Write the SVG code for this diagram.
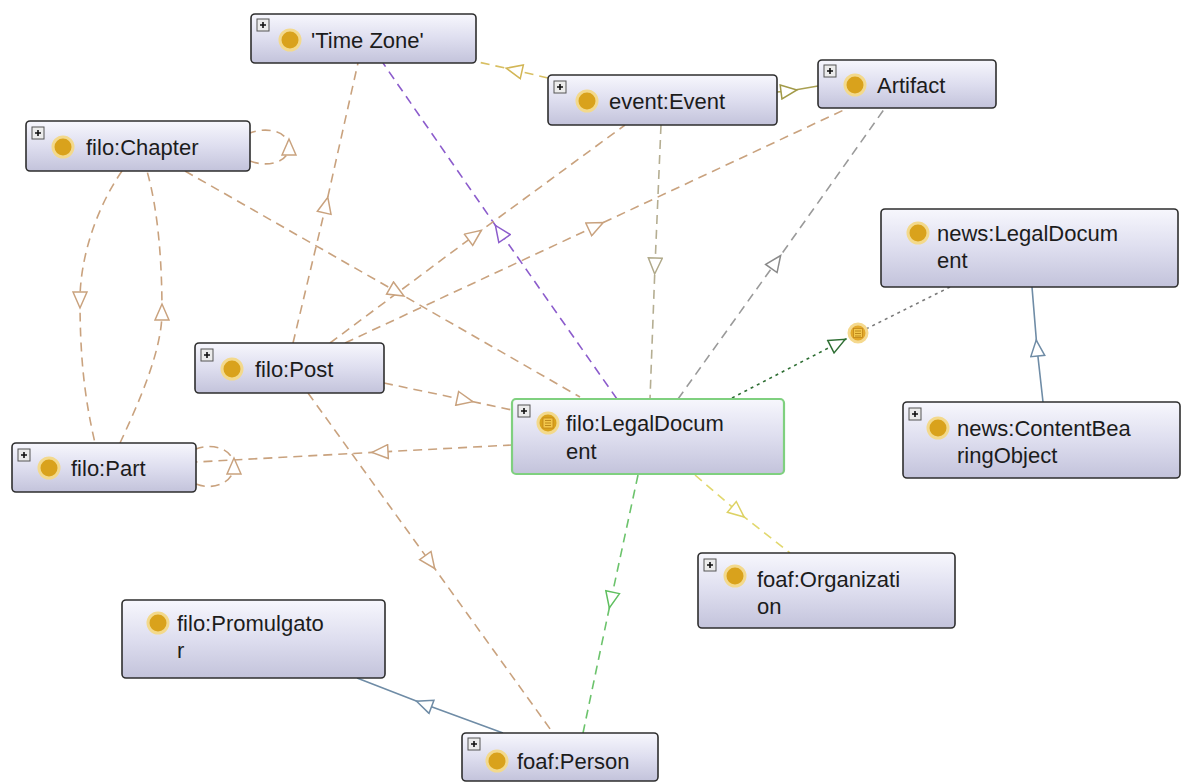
<svg xmlns="http://www.w3.org/2000/svg" width="1182" height="782" viewBox="0 0 1182 782">
<style>
.box{fill:url(#nodeFill);stroke:#2e2e2e;stroke-width:1.6}
.box.sel{stroke:#7fd07f;stroke-width:2.2}
.lbl{font-family:"Liberation Sans",Arial,sans-serif;font-size:22px;fill:#1c1c1c}
.dot{fill:#d9a21c;stroke:#f3d98c;stroke-width:3}
.plus rect{fill:#ececec;stroke:#555;stroke-width:1}
.plus path{stroke:#111;stroke-width:1.6}
.e{fill:none;stroke-width:1.6;stroke-dasharray:9 6}
.tan{stroke:#c9a27e}
.olive{stroke:#b5ae92}
.gray{stroke:#9a9a9a}
.purple{stroke:#8c5ccc}
.green{stroke:#6cc36c}
.yellow{stroke:#e2d86e}
.gold{stroke:#d8bf62}
.ol2{stroke:#a9a052}
.solid{stroke:#6f8ca6;stroke-dasharray:none}
.dotg{stroke:#2f6f34;stroke-dasharray:3 4}
.dotgr{stroke:#7a7a7a;stroke-dasharray:3 4}
.ah{stroke-width:1.5;fill:#fff}
</style>
<defs>
<linearGradient id="nodeFill" x1="0" y1="0" x2="0" y2="1">
<stop offset="0" stop-color="#f7f7fd"/>
<stop offset="0.5" stop-color="#dedeef"/>
<stop offset="1" stop-color="#c3c3db"/>
</linearGradient>
<marker id="m-tan" markerUnits="userSpaceOnUse" markerWidth="20" markerHeight="16" viewBox="0 0 20 16" refX="10" refY="8" orient="auto"><path class="ah" d="M2,1 L18,8 L2,15 Z" stroke="#c9a27e"/></marker>
<marker id="m-olive" markerUnits="userSpaceOnUse" markerWidth="20" markerHeight="16" viewBox="0 0 20 16" refX="10" refY="8" orient="auto"><path class="ah" d="M2,1 L18,8 L2,15 Z" stroke="#b0a98a"/></marker>
<marker id="m-gray" markerUnits="userSpaceOnUse" markerWidth="20" markerHeight="16" viewBox="0 0 20 16" refX="10" refY="8" orient="auto"><path class="ah" d="M2,1 L18,8 L2,15 Z" stroke="#8a8a8a"/></marker>
<marker id="m-purple" markerUnits="userSpaceOnUse" markerWidth="20" markerHeight="16" viewBox="0 0 20 16" refX="10" refY="8" orient="auto"><path class="ah" d="M2,1 L18,8 L2,15 Z" stroke="#8c5ccc"/></marker>
<marker id="m-green" markerUnits="userSpaceOnUse" markerWidth="20" markerHeight="16" viewBox="0 0 20 16" refX="10" refY="8" orient="auto"><path class="ah" d="M2,1 L18,8 L2,15 Z" stroke="#5fbf5f"/></marker>
<marker id="m-yellow" markerUnits="userSpaceOnUse" markerWidth="20" markerHeight="16" viewBox="0 0 20 16" refX="10" refY="8" orient="auto"><path class="ah" d="M2,1 L18,8 L2,15 Z" stroke="#ddd264"/></marker>
<marker id="m-gold" markerUnits="userSpaceOnUse" markerWidth="20" markerHeight="16" viewBox="0 0 20 16" refX="10" refY="8" orient="auto"><path class="ah" d="M2,1 L18,8 L2,15 Z" stroke="#d2b656"/></marker>
<marker id="m-ol2" markerUnits="userSpaceOnUse" markerWidth="20" markerHeight="16" viewBox="0 0 20 16" refX="10" refY="8" orient="auto"><path class="ah" d="M2,1 L18,8 L2,15 Z" stroke="#a29a48"/></marker>
<marker id="m-solid" markerUnits="userSpaceOnUse" markerWidth="20" markerHeight="16" viewBox="0 0 20 16" refX="10" refY="8" orient="auto"><path class="ah" d="M2,1 L18,8 L2,15 Z" stroke="#6f8ca6"/></marker>
<marker id="m-dotg" markerUnits="userSpaceOnUse" markerWidth="20" markerHeight="16" viewBox="0 0 20 16" refX="10" refY="8" orient="auto"><path class="ah" d="M2,1 L18,8 L2,15 Z" stroke="#2f6f34"/></marker>
</defs>
<rect width="1182" height="782" fill="#fff"/>

<g id="connectors">
<path class="e gold" d="M548,78 L514,70 L478,62" marker-mid="url(#m-gold)"/>
<path class="e ol2" d="M777,92 L789,91 L818,86" marker-mid="url(#m-ol2)" style="stroke-dasharray:none"/>
<path class="e tan" d="M293,343 L326,205 L358,63" marker-mid="url(#m-tan)"/>
<path class="e purple" d="M617,399 L500,232 L383,63" marker-mid="url(#m-purple)"/>
<path class="e tan" d="M330,343 L475,235 L625,125" marker-mid="url(#m-tan)"/>
<path class="e tan" d="M345,343 L596,226 L848,108" marker-mid="url(#m-tan)"/>
<path class="e tan" d="M185,171 L397,292 L580,397" marker-mid="url(#m-tan)"/>
<path class="e olive" d="M661,125 L655,266 L650,399" marker-mid="url(#m-olive)"/>
<path class="e gray" d="M678,399 L776,262 L885,108" marker-mid="url(#m-gray)"/>
<path class="e dotg" d="M732,398 L838,343 L850,337" marker-mid="url(#m-dotg)"/>
<path class="e dotgr" d="M866,329 L950,287"/>
<path class="e solid" d="M1043,402 L1037,348 L1032,287" marker-mid="url(#m-solid)"/>
<path class="e tan" d="M384,383 L465,400 L512,410" marker-mid="url(#m-tan)"/>
<path class="e tan" d="M512,445 L380,452 L196,462" marker-mid="url(#m-tan)"/>
<path class="e tan" d="M196,484 C214,491 234,482 234,466 C234,450 214,442 196,449" marker-mid="url(#m-tan)"/>
<path class="e tan" d="M250,161 C268,168 289,162 289,147 C289,132 268,126 250,133" marker-mid="url(#m-tan)"/>
<path class="e tan" d="M122,171 C95,210 80,260 80,300 C80,360 85,400 95,443" marker-mid="url(#m-tan)"/>
<path class="e tan" d="M120,443 C140,400 162,350 162,312 C162,260 158,210 147,171" marker-mid="url(#m-tan)"/>
<path class="e tan" d="M308,393 L430,562 L553,733" marker-mid="url(#m-tan)"/>
<path class="e green" d="M638,475 L611,600 L583,733" marker-mid="url(#m-green)"/>
<path class="e yellow" d="M695,475 L738,512 L790,553" marker-mid="url(#m-yellow)"/>
<path class="e solid" d="M503,733 L424,704 L357,678" marker-mid="url(#m-solid)"/>
<g id="equiv-point">
<circle cx="858" cy="333" r="9" fill="#e2a82a" stroke="#f5d98e" stroke-width="3"/>
<rect x="853.5" y="328.5" width="9" height="9" fill="#f2c64a" stroke="#c2861a" stroke-width="0.8"/>
<path d="M855,331 H861 M855,333.5 H861 M855,336 H861" stroke="#b07a10" stroke-width="0.8"/>
</g>
</g>

<g id="node-time-zone">
<rect class="box" x="251" y="14" width="225" height="49" rx="4"/>
<g class="plus"><rect x="257" y="19" width="12" height="12"/><path d="M260,25 H266 M263,22 V28"/></g>
<circle class="dot" cx="290" cy="40" r="10"/>
<text class="lbl" x="311" y="48">'Time Zone'</text>
</g>

<g id="node-event">
<rect class="box" x="548" y="75" width="229" height="50" rx="4"/>
<g class="plus"><rect x="554" y="81" width="12" height="12"/><path d="M557,87 H563 M560,84 V90"/></g>
<circle class="dot" cx="587" cy="101" r="10"/>
<text class="lbl" x="609" y="109">event:Event</text>
</g>

<g id="node-artifact">
<rect class="box" x="818" y="60" width="178" height="48" rx="4"/>
<g class="plus"><rect x="824" y="65" width="12" height="12"/><path d="M827,71 H833 M830,68 V74"/></g>
<circle class="dot" cx="855" cy="85" r="10"/>
<text class="lbl" x="877" y="93">Artifact</text>
</g>

<g id="node-chapter">
<rect class="box" x="26" y="121" width="224" height="50" rx="4"/>
<g class="plus"><rect x="32" y="127" width="12" height="12"/><path d="M35,133 H41 M38,130 V136"/></g>
<circle class="dot" cx="63" cy="147" r="10"/>
<text class="lbl" x="86" y="155">filo:Chapter</text>
</g>

<g id="node-post">
<rect class="box" x="195" y="343" width="189" height="50" rx="4"/>
<g class="plus"><rect x="201" y="349" width="12" height="12"/><path d="M204,355 H210 M207,352 V358"/></g>
<circle class="dot" cx="232" cy="369" r="10"/>
<text class="lbl" x="255" y="377">filo:Post</text>
</g>

<g id="node-part">
<rect class="box" x="12" y="443" width="184" height="49" rx="4"/>
<g class="plus"><rect x="18" y="449" width="12" height="12"/><path d="M21,455 H27 M24,452 V458"/></g>
<circle class="dot" cx="49" cy="468" r="10"/>
<text class="lbl" x="71" y="476">filo:Part</text>
</g>

<g id="node-filo-legal-document">
<rect class="box sel" x="512" y="399" width="272" height="75" rx="4"/>
<g class="plus"><rect x="518" y="405" width="12" height="12"/><path d="M521,411 H527 M524,408 V414"/></g>
<circle class="dot" cx="548" cy="423" r="10"/>
<rect x="543" y="418" width="10" height="10" fill="#f2c64a" stroke="#c2861a" stroke-width="0.8"/>
<path d="M545,420.5 H551 M545,423 H551 M545,425.5 H551" stroke="#b07a10" stroke-width="0.8"/>
<text class="lbl" x="566" y="431">filo:LegalDocum</text>
<text class="lbl" x="566" y="459">ent</text>
</g>

<g id="node-news-legal-document">
<rect class="box" x="881" y="209" width="297" height="78" rx="4"/>
<circle class="dot" cx="918" cy="233" r="10"/>
<text class="lbl" x="937" y="241">news:LegalDocum</text>
<text class="lbl" x="937" y="268">ent</text>
</g>

<g id="node-content-bearing-object">
<rect class="box" x="903" y="402" width="277" height="76" rx="4"/>
<g class="plus"><rect x="909" y="408" width="12" height="12"/><path d="M912,414 H918 M915,411 V417"/></g>
<circle class="dot" cx="938" cy="428" r="10"/>
<text class="lbl" x="957" y="436">news:ContentBea</text>
<text class="lbl" x="957" y="463">ringObject</text>
</g>

<g id="node-organization">
<rect class="box" x="698" y="553" width="257" height="75" rx="4"/>
<g class="plus"><rect x="704" y="559" width="12" height="12"/><path d="M707,565 H713 M710,562 V568"/></g>
<circle class="dot" cx="735" cy="576" r="10"/>
<text class="lbl" x="757" y="587">foaf:Organizati</text>
<text class="lbl" x="757" y="614">on</text>
</g>

<g id="node-promulgator">
<rect class="box" x="122" y="600" width="263" height="78" rx="4"/>
<circle class="dot" cx="158" cy="623" r="10"/>
<text class="lbl" x="177" y="631">filo:Promulgato</text>
<text class="lbl" x="177" y="658">r</text>
</g>

<g id="node-person">
<rect class="box" x="462" y="733" width="196" height="48" rx="4"/>
<g class="plus"><rect x="468" y="738" width="12" height="12"/><path d="M471,744 H477 M474,741 V747"/></g>
<circle class="dot" cx="497" cy="761" r="10"/>
<text class="lbl" x="517" y="769">foaf:Person</text>
</g>
</svg>
